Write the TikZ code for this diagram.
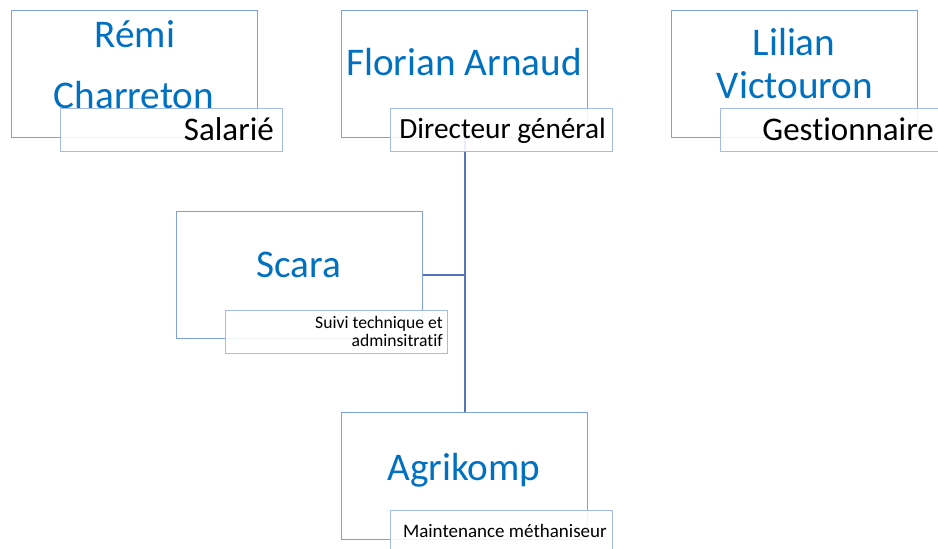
\documentclass[tikz,border=0pt]{standalone}
\usepackage{fontspec}
\setmainfont{Carlito}[Ligatures=NoCommon]
\definecolor{namecol}{HTML}{0070C0}
\definecolor{boxcol}{HTML}{7F9FE0}
\definecolor{lblcol}{HTML}{A4BAE8}
\definecolor{linkcol}{HTML}{5574B8}
\tikzset{
  mainbox/.style={draw=boxcol, line width=1.3pt, rectangle, minimum width=246pt, minimum height=127pt, anchor=north west, inner sep=0pt},
  lblbox/.style={draw=lblcol, line width=1.2pt, fill=white, fill opacity=0.88, rectangle, minimum width=222pt, minimum height=43pt, anchor=north west, inner sep=0pt},
  nametxt/.style={text=namecol, font=\fontsize{39.2}{46}\selectfont, anchor=base, inner sep=0pt},
  lbltxt/.style={text=black, anchor=base east, inner sep=0pt},
  link/.style={draw=linkcol, line width=2pt}
}
\begin{document}
\begin{tikzpicture}[x=1pt,y=-1pt]
\useasboundingbox (0,0) rectangle (938,549);
% main boxes
\node[mainbox] (remi) at (11,10) {};
\node[mainbox] (florian) at (341,10) {};
\node[mainbox] (lilian) at (671,10) {};
\node[mainbox] (scara) at (176,211) {};
\node[mainbox] (agri) at (341,412) {};
% connectors
\draw[link] (florian.south) -- (agri.north);
\draw[link] (scara.east) -- (scara.east -| florian.south);
% names
\node[nametxt] (remi1) at (135,47) {Rémi};
\node[nametxt] (remi2) at (134,108) {Charreton};
\node[nametxt] (flo1) at (464,75) {Florian Arnaud};
\node[nametxt] (lil1) at (794,55) {Lilian};
\node[nametxt] (lil2) at (795,98) {Victouron};
\node[nametxt] (sca1) at (299,277) {Scara};
\node[nametxt] (agr1) at (464,480) {Agrikomp};
% label boxes
\node[lblbox] (remil) at (60,108) {};
\node[lblbox] (flol) at (390,108) {};
\node[lblbox] (lill) at (720,108) {};
\node[lblbox] (scal) at (225,310) {};
\node[lblbox] (agrl) at (390,510) {};
% labels
\node[lbltxt, font=\fontsize{33}{40}\selectfont] (remit) at (274,140) {Salarié};
\node[lbltxt, font=\fontsize{29.3}{35}\selectfont] (flot) at (606,138) {Directeur général};
\node[lbltxt, font=\fontsize{33}{40}\selectfont] (lilt) at (934,140) {Gestionnaire};
\node[lbltxt, font=\fontsize{17.6}{20}\selectfont] (scat1) at (443,328) {Suivi technique et};
\node[lbltxt, font=\fontsize{17.6}{20}\selectfont] (scat2) at (443,346) {adminsitratif};
\node[lbltxt, font=\fontsize{19}{23}\selectfont] (agrt) at (607,537) {Maintenance méthaniseur};
\end{tikzpicture}
\end{document}
